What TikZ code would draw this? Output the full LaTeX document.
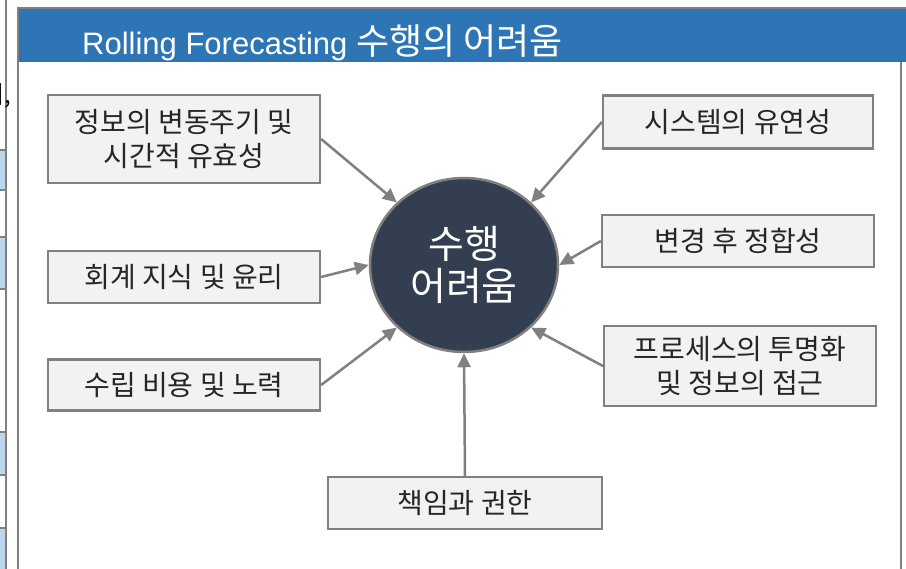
\documentclass[tikz,border=0pt]{standalone}
\usepackage{fontspec}
\setmainfont{Liberation Sans}
\newfontfamily\kr{Noto Sans CJK KR}
\usetikzlibrary{shapes.geometric,arrows.meta}
\definecolor{hdrblue}{HTML}{2E75B6}
\definecolor{navy}{HTML}{333F50}
\definecolor{boxfill}{HTML}{F2F2F2}
\definecolor{linegray}{HTML}{808080}
\definecolor{fragblue}{HTML}{BDD7EE}
\definecolor{txt}{HTML}{262626}
\begin{document}
\begin{tikzpicture}[x=1pt,y=-1pt,
  itembox/.style={draw=linegray,line width=2.2pt,fill=boxfill,inner sep=0pt,align=center,text=txt,font=\kr\fontsize{28}{34}\selectfont},
  arr/.style={draw=linegray,line width=2.5pt,-{Triangle[length=14pt,width=13pt]}},
  frag/.style={fill=fragblue,draw=linegray,line width=1.5pt},
  frame/.style={draw=linegray,line width=2.5pt}
]
\useasboundingbox (0,0) rectangle (906,569);
\fill[white] (0,0) rectangle (906,569);
% fragments of neighbouring slide at the left edge
\foreach \a/\b in {150/190,237/289,432/475,528/580}
  \filldraw[frag] (-5,\a) rectangle (6,\b);
\draw[linegray,line width=1.5pt] (6,-5) -- (6,580);
\begin{scope}
  \clip (0,80) rectangle (12,115);
  \node[anchor=base east,inner sep=0pt,font=\kr\fontsize{24}{24}\selectfont,text=black] (frg) at (11,104) {니,};
\end{scope}
% main frame
\fill[hdrblue] (19,8) rectangle (910,62);
\draw[frame] (18,580) -- (18,8) -- (910,8);
\draw[frame] (901,62) -- (901,580);
\node[anchor=base west,inner sep=0pt,text=white,font=\fontsize{31}{31}\selectfont] (title) at (82,55)
  {Rolling Forecasting {\kr\fontsize{36}{36}\selectfont 수행의 어려움}};
% centre
\node[ellipse,draw=linegray,line width=2.5pt,fill=navy,minimum width=188pt,minimum height=174pt,
  inner sep=0pt,align=center,text=white,font=\kr\fontsize{39}{42}\selectfont] (c) at (464,265) {수행\\어려움};
% boxes
\node[itembox,minimum width=272pt,minimum height=88pt] (b1) at (184,139) {정보의 변동주기 및\\시간적 유효성};
\node[itembox,minimum width=272pt,minimum height=52pt] (b2) at (184,277) {회계 지식 및 윤리};
\node[itembox,minimum width=272pt,minimum height=51pt] (b3) at (184,385) {수립 비용 및 노력};
\node[itembox,minimum width=270pt,minimum height=53pt] (b4) at (738,122) {시스템의 유연성};
\node[itembox,minimum width=272pt,minimum height=52pt] (b5) at (738,241) {변경 후 정합성};
\node[itembox,minimum width=272pt,minimum height=80pt] (b6) at (740,366) {프로세스의 투명화\\및 정보의 접근};
\node[itembox,minimum width=274pt,minimum height=52pt] (b7) at (465,503) {책임과 권한};
% arrows
\draw[arr] (b1.east) -- (c.137);
\draw[arr] (b2.east) -- (c.180);
\draw[arr] (b3.east) -- (c.223);
\draw[arr] (b4.west) -- (c.43);
\draw[arr] (b5.west) -- (c.0);
\draw[arr] (b6.west) -- (c.317);
\draw[arr] (b7.north) -- (c.270);
\end{tikzpicture}
\end{document}
